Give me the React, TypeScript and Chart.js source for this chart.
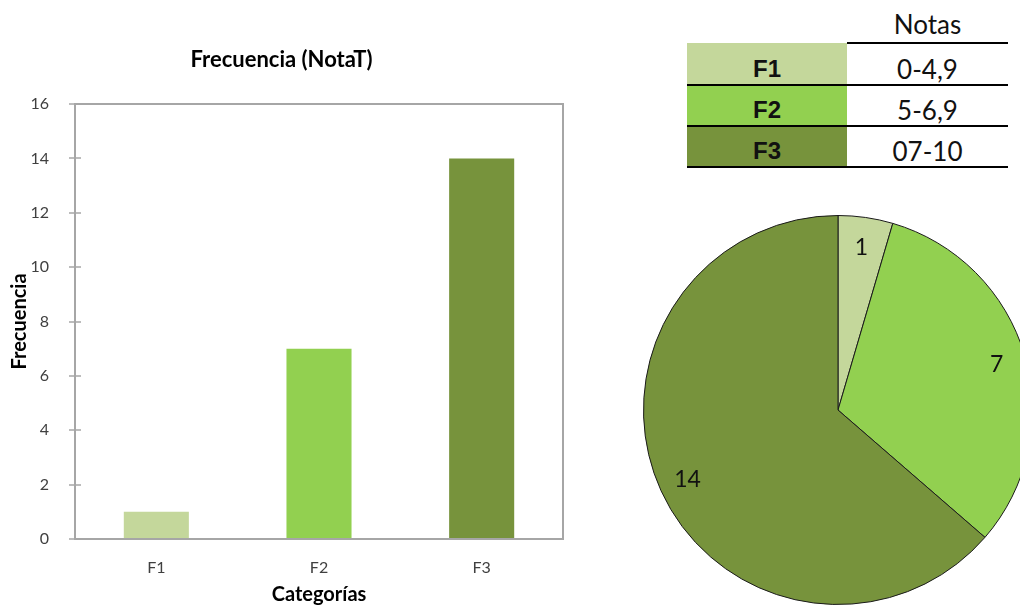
import React, { useEffect, useRef } from "react";
import { Chart, registerables } from "chart.js";

Chart.register(...registerables);

const categories = ["F1", "F2", "F3"];
const frequencies = [1, 7, 14];
const colors = ["#c4d79b", "#92d050", "#77933c"];
const ranges = ["0-4,9", "5-6,9", "07-10"];
const yTicks = [0, 2, 4, 6, 8, 10, 12, 14, 16];

const FONT = "Lato, 'Open Sans', sans-serif";

const framePlugin = {
  id: "frame",
  afterDraw(chart: any) {
    const { ctx, chartArea } = chart;
    const y = chart.scales.y;
    ctx.save();
    ctx.strokeStyle = "#a6a6a6";
    ctx.lineWidth = 2;
    ctx.strokeRect(chartArea.left, chartArea.top, chartArea.right - chartArea.left, chartArea.bottom - chartArea.top);
    ctx.lineWidth = 1.5;
    yTicks.forEach((v) => {
      const py = Math.round(y.getPixelForValue(v));
      ctx.beginPath();
      ctx.moveTo(chartArea.left - 6, py);
      ctx.lineTo(chartArea.left + 6, py);
      ctx.stroke();
    });
    ctx.restore();
  },
};

const pieLabelPlugin = {
  id: "pieLabels",
  afterDatasetsDraw(chart: any) {
    const { ctx } = chart;
    const meta = chart.getDatasetMeta(0);
    ctx.save();
    ctx.fillStyle = "#111";
    ctx.font = `23px ${FONT}`;
    ctx.textAlign = "center";
    ctx.textBaseline = "middle";
    meta.data.forEach((arc: any, i: number) => {
      const p = arc.getProps(["x", "y", "startAngle", "endAngle", "outerRadius"], true);
      const mid = (p.startAngle + p.endAngle) / 2;
      const r = p.outerRadius * 0.85;
      ctx.fillText(String(frequencies[i]), p.x + Math.cos(mid) * r, p.y + Math.sin(mid) * r + 1);
    });
    ctx.restore();
  },
};

export default function App() {
  const barRef = useRef<HTMLCanvasElement>(null);
  const pieRef = useRef<HTMLCanvasElement>(null);

  useEffect(() => {
    const bar = new Chart(barRef.current!, {
      type: "bar",
      data: {
        labels: categories,
        datasets: [
          {
            data: frequencies,
            backgroundColor: colors,
            barPercentage: 0.4,
            categoryPercentage: 1,
          },
        ],
      },
      options: {
        responsive: false,
        animation: false,
        layout: { padding: { left: 0, right: 3, top: 0, bottom: 0 } },
        plugins: {
          legend: { display: false },
          tooltip: { enabled: false },
          title: {
            display: true,
            text: "Frecuencia (NotaT)",
            color: "#000",
            font: { family: FONT, size: 22, weight: "bold", lineHeight: 1.2 },
            padding: { top: 46.8, bottom: 30.8 },
          },
        },
        scales: {
          x: {
            grid: { display: false },
            border: { display: false },
            ticks: { color: "#404040", font: { family: FONT, size: 16 }, padding: 11 },
            title: {
              display: true,
              text: "Categorías",
              color: "#000",
              font: { family: FONT, size: 20, weight: "bold", lineHeight: 1.0 },
              padding: { top: 0, bottom: 0 },
            },
            afterFit: (s: any) => {
              s.height = 66;
            },
          },
          y: {
            min: 0,
            max: 16,
            grid: { display: false },
            border: { display: false },
            ticks: { stepSize: 2, color: "#404040", font: { family: FONT, size: 16 }, padding: 18 },
            title: {
              display: true,
              text: "Frecuencia",
              color: "#000",
              font: { family: FONT, size: 20, weight: "bold", lineHeight: 1.2 },
              padding: { top: 8, bottom: 0 },
            },
            afterFit: (s: any) => {
              s.width = 75;
            },
          },
        },
      } as any,
      plugins: [framePlugin],
    });

    const pie = new Chart(pieRef.current!, {
      type: "pie",
      data: {
        labels: categories,
        datasets: [
          {
            data: frequencies,
            backgroundColor: colors,
            borderColor: "#1a1a1a",
            borderWidth: 1,
          },
        ],
      },
      options: {
        responsive: false,
        animation: false,
        layout: { padding: 0 },
        plugins: { legend: { display: false }, tooltip: { enabled: false } },
      } as any,
      plugins: [pieLabelPlugin],
    });

    return () => {
      bar.destroy();
      pie.destroy();
    };
  }, []);

  const rowTops = [43, 85, 126];
  const rowHeights = [42, 41, 41];

  return (
    <div
      style={{
        position: "fixed",
        left: 0,
        top: 0,
        width: 1020,
        height: 605,
        overflow: "hidden",
        background: "#fff",
      }}
    >
      <canvas ref={barRef} width={566} height={605} style={{ position: "absolute", left: 0, top: 0 }} />
      <canvas ref={pieRef} width={390} height={390} style={{ position: "absolute", left: 643, top: 215 }} />

      <div
        style={{
          position: "absolute",
          left: 847,
          width: 161,
          top: 9,
          height: 30,
          lineHeight: "30px",
          textAlign: "center",
          fontFamily: FONT,
          fontSize: 26,
          color: "#111",
        }}
      >
        Notas
      </div>

      {categories.map((c, i) => (
        <React.Fragment key={c}>
          <div
            style={{
              position: "absolute",
              left: 687,
              width: 160,
              top: rowTops[i],
              height: rowHeights[i],
              background: colors[i],
            }}
          />
          <div
            style={{
              position: "absolute",
              left: 687,
              width: 160,
              top: rowTops[i] + rowHeights[i] - 31,
              height: 30,
              lineHeight: "30px",
              textAlign: "center",
              fontFamily: "'Liberation Sans', Arial, sans-serif",
              fontWeight: "bold",
              fontSize: 24,
              color: "#111",
            }}
          >
            {c}
          </div>
          <div
            style={{
              position: "absolute",
              left: 847,
              width: 161,
              top: rowTops[i] + rowHeights[i] - 31,
              height: 30,
              lineHeight: "30px",
              textAlign: "center",
              fontFamily: FONT,
              fontSize: 26,
              color: "#111",
            }}
          >
            {ranges[i]}
          </div>
        </React.Fragment>
      ))}

      <div style={{ position: "absolute", left: 847, width: 161, top: 42, height: 2, background: "#000" }} />
      {[84, 125, 166].map((t) => (
        <div key={t} style={{ position: "absolute", left: 687, width: 321, top: t, height: 2, background: "#000" }} />
      ))}
    </div>
  );
}
